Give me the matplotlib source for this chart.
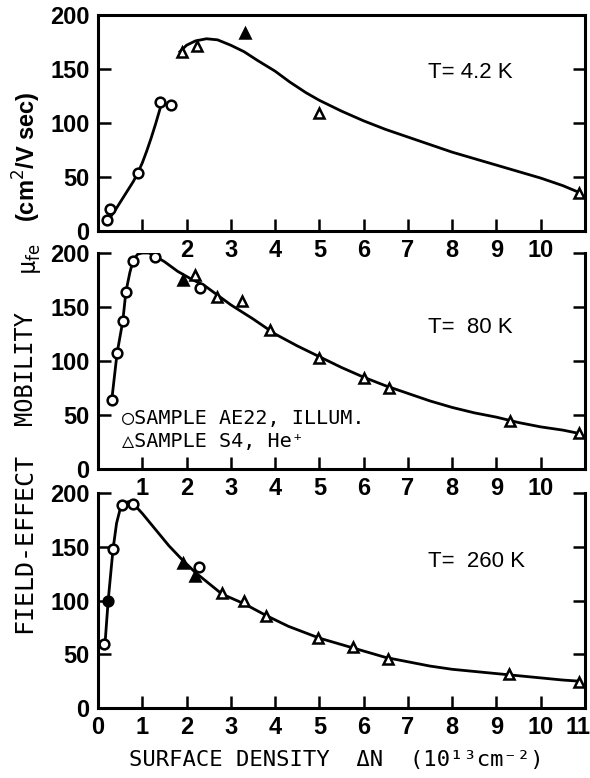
import matplotlib.pyplot as plt
from matplotlib.transforms import ScaledTranslation

# T = 4.2 K
circ4_x = [0.2, 0.27, 0.9, 1.4, 1.65]
circ4_y = [10, 20, 54, 119, 117]
tri4_x = [1.9, 2.23, 3.32, 4.99, 10.86]
tri4_y = [166, 171, 183, 109, 35]
tri4_filled = [False, False, True, False, False]
fit4a_x = [0.2, 0.4, 0.6, 0.8, 0.9, 1.0, 1.1, 1.2, 1.3, 1.45]
fit4a_y = [8, 20, 33, 46, 54, 63, 74, 86, 99, 120]
fit4b_x = [1.85, 2.0, 2.2, 2.45, 2.7, 3.0, 3.3, 3.6, 4.0, 4.33, 4.7, 5.0,
           5.5, 6.0, 6.5, 7.0, 7.5, 8.0, 8.5, 9.0, 9.5, 10.0, 10.5, 10.85]
fit4b_y = [166, 172, 176, 178, 177, 172, 166, 158, 148, 138, 128, 121,
           111, 102, 94, 87, 80, 73, 67, 61, 55, 49, 42, 36]

# T = 80 K
circ80_x = [0.32, 0.43, 0.56, 0.63, 0.8, 1.29, 2.3]
circ80_y = [64, 107, 137, 164, 193, 196, 168]
tri80_x = [1.92, 2.19, 2.68, 3.25, 3.88, 4.99, 6.0, 6.57, 9.3, 10.86]
tri80_y = [175, 180, 159, 156, 129, 103, 84, 75, 44, 33]
tri80_filled = [True] + [False] * 9
fit80_x = [0.3, 0.43, 0.56, 0.63, 0.72, 0.8, 0.9, 1.0, 1.15, 1.29, 1.5, 1.8,
           2.1, 2.4, 2.7, 3.0, 3.5, 4.0, 4.5, 5.0, 5.5, 6.0, 6.5, 7.0, 7.5,
           8.0, 8.5, 9.0, 9.5, 10.0, 10.5, 10.86]
fit80_y = [60, 107, 137, 164, 182, 194, 199, 200, 200, 197, 192, 183,
           176, 170, 161, 152, 139, 125, 114, 104, 94, 85, 77, 70, 63,
           57, 52, 48, 43, 39, 36, 33]

# T = 260 K
circ260_x = [0.14, 0.23, 0.34, 0.54, 0.79, 2.28]
circ260_y = [60, 100, 148, 189, 190, 131]
circ260_filled = [False, True, False, False, False, False]
tri260_x = [1.92, 2.19, 2.8, 3.3, 3.79, 4.97, 5.76, 6.55, 9.28, 10.86]
tri260_y = [135, 123, 107, 100, 86, 65, 57, 46, 32, 24]
tri260_filled = [True, True] + [False] * 8
fit260_x = [0.15, 0.23, 0.34, 0.42, 0.5, 0.6, 0.7, 0.8, 1.0, 1.3, 1.6, 1.9,
            2.2, 2.5, 2.8, 3.3, 3.8, 4.3, 5.0, 5.5, 6.0, 6.5, 7.0, 7.5, 8.0,
            8.5, 9.0, 9.5, 10.0, 10.5, 10.86]
fit260_y = [55, 100, 148, 172, 185, 191, 192, 190, 181, 166, 151, 138,
            126, 116, 106, 97, 86, 76, 65, 59, 53, 47, 43, 39, 36,
            34, 32, 30, 28, 26, 25]

yticks = [0, 50, 100, 150, 200]
xticks_top = [1, 2, 3, 4, 5, 6, 7, 8, 9, 10]
xlabels_top = ['', '2', '3', '4', '5', '6', '7', '8', '9', '10']
xticks_mid = [1, 2, 3, 4, 5, 6, 7, 8, 9, 10]
xlabels_mid = ['1', '2', '3', '4', '5', '6', '7', '8', '9', '10']
xticks_bot = [0, 1, 2, 3, 4, 5, 6, 7, 8, 9, 10, 11]
xlabels_bot = [str(v) for v in xticks_bot]

SANS = 'Liberation Sans'
MONO = 'DejaVu Sans Mono'

W, H = 590, 778
fig = plt.figure(figsize=(W / 100, H / 100), dpi=100)
fig.patch.set_facecolor('white')


def px_axes(left, top, right, bottom):
    return fig.add_axes([left / W, 1 - bottom / H, (right - left) / W, (bottom - top) / H])


def style(ax, ticks, labels, top_spine):
    ax.set_xlim(0, 11)
    ax.set_ylim(0, 200)
    ax.patch.set_alpha(0)
    for name, sp in ax.spines.items():
        sp.set_linewidth(2.2)
    ax.spines['top'].set_visible(top_spine)
    ax.set_yticks(yticks)
    ax.set_xticks(ticks, labels)
    ax.tick_params(direction='in', length=9, width=1.8, top=False, right=True,
                   labelsize=17, pad=6)
    for t in ax.get_xticklabels() + ax.get_yticklabels():
        t.set_fontfamily(SANS)
        t.set_fontweight('bold')


def points(ax, xs, ys, marker, filled=None):
    if filled is None:
        filled = [False] * len(xs)
    for x, y, f in zip(xs, ys, filled):
        ax.plot(x, y, marker=marker, ms=7, mew=1.8, mec='black',
                mfc='black' if f else 'white', ls='none', zorder=4)


ax1 = px_axes(98, 15, 585, 231)
ax2 = px_axes(98, 253, 585, 469)
ax3 = px_axes(98, 493, 585, 708)

style(ax1, xticks_top, xlabels_top, True)
style(ax2, xticks_mid, xlabels_mid, False)
style(ax3, xticks_bot, xlabels_bot, False)

# nudge the last bottom label so it stays on the page
last = ax3.get_xticklabels()[-1]
last.set_transform(last.get_transform() + ScaledTranslation(-0.07, 0, fig.dpi_scale_trans))

lw = 2.0
ax1.plot(fit4a_x, fit4a_y, color='black', lw=lw)
ax1.plot(fit4b_x, fit4b_y, color='black', lw=lw)
points(ax1, circ4_x, circ4_y, 'o')
points(ax1, tri4_x, tri4_y, '^', tri4_filled)

ax2.plot(fit80_x, fit80_y, color='black', lw=lw)
points(ax2, circ80_x, circ80_y, 'o')
points(ax2, tri80_x, tri80_y, '^', tri80_filled)

ax3.plot(fit260_x, fit260_y, color='black', lw=lw)
points(ax3, circ260_x, circ260_y, 'o', circ260_filled)
points(ax3, tri260_x, tri260_y, '^', tri260_filled)

ax1.text(7.45, 147, 'T= 4.2 K', fontsize=16, family=SANS, va='center')
ax2.text(7.45, 131, 'T=  80 K', fontsize=16, family=SANS, va='center')
ax3.text(7.45, 136, 'T=  260 K', fontsize=16, family=SANS, va='center')

# legend entries written as text with marker glyphs
ax2.text(0.55, 47, '\u25cbSAMPLE AE22, ILLUM.', fontsize=14.5, family=MONO, va='center')
ax2.text(0.55, 25, '\u25b3SAMPLE S4, He\u207a', fontsize=14.5, family=MONO, va='center')

# vertical axis title built from pieces
fig.text(27 / W, 1 - 157 / H, '(cm$^2$/V sec)', rotation=90, fontsize=17,
         family=SANS, fontweight='bold', ha='center', va='center')
fig.text(31 / W, 1 - 259 / H, '\u03bc$_{\\mathrm{fe}}$', rotation=90, fontsize=17,
         family=MONO, ha='center', va='center')
fig.text(25 / W, 1 - 368 / H, 'MOBILITY', rotation=90, fontsize=17,
         family=MONO, ha='center', va='center')
fig.text(24 / W, 1 - 543 / H, 'FIELD-EFFECT', rotation=90, fontsize=18,
         family=MONO, ha='center', va='center')

fig.text(336 / W, 1 - 760 / H, 'SURFACE DENSITY  \u0394N  (10\u00b9\u00b3cm\u207b\u00b2)',
         fontsize=16, family=MONO, ha='center', va='center')

fig.savefig('out.png', dpi=100, facecolor='white')
